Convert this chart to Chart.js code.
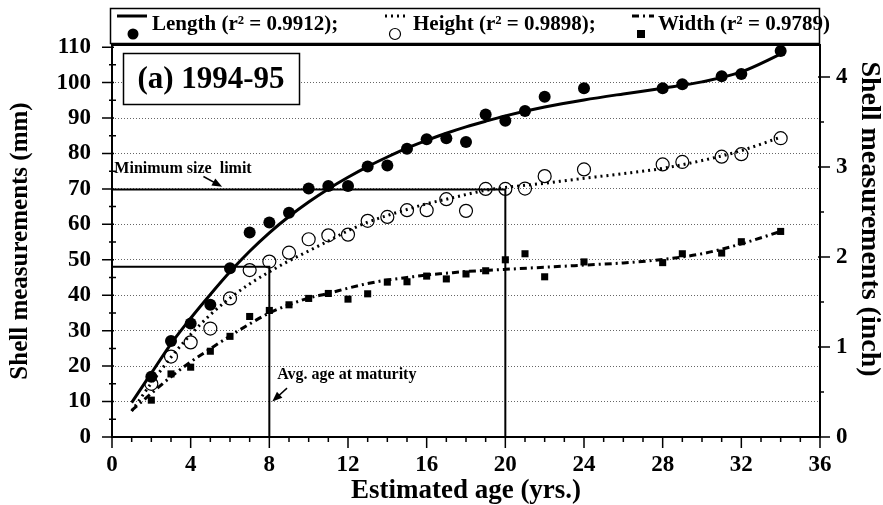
<!DOCTYPE html>
<html>
<head>
<meta charset="utf-8">
<script src="https://cdn.jsdelivr.net/npm/chart.js@4.4.1/dist/chart.umd.min.js"></script>
<style>
  html, body { margin: 0; padding: 0; background: #fff; }
</style>
</head>
<body>
<canvas id="chart" width="883" height="505"></canvas>
<script>
// observed shell measurements (mm) by estimated age
const obsAges = [2, 3, 4, 5, 6, 7, 8, 9, 10, 11, 12, 13, 14, 15, 16, 17, 18, 19, 20, 21, 22, 24, 28, 29, 31, 32, 34];
const lengthObs = [17, 27.1, 32, 37.3, 47.6, 57.7, 60.5, 63.3, 70.1, 70.8, 70.8, 76.3, 76.6, 81.3, 84, 84.3, 83.2, 91, 89.2, 92, 96, 98.4, 98.4, 99.5, 101.8, 102.4, 108.9];
const heightObs = [15, 22.7, 26.7, 30.6, 39.1, 47.1, 49.5, 52, 55.8, 56.9, 57.1, 61, 62.1, 64, 64, 67.1, 63.8, 70, 70, 70.1, 73.6, 75.5, 76.9, 77.6, 79.1, 79.8, 84.3];
const widthObs = [10.4, 17.8, 19.7, 24.2, 28.4, 34, 35.7, 37.3, 39.1, 40.5, 38.9, 40.4, 43.7, 43.8, 45.4, 44.6, 46, 46.9, 50, 51.7, 45.2, 49.4, 49.2, 51.7, 51.9, 55.1, 58];

// fitted curves
const fitAges = [1, 2, 3, 4, 5, 6, 7, 8, 9, 10, 11, 12, 13, 14, 15, 16, 17, 18, 19, 20, 22, 24, 26, 28, 30, 32, 34];
const lengthFit = [9.7, 18.0, 26.3, 33.5, 40.2, 46.6, 52.4, 57.6, 62.2, 66.3, 70.0, 73.3, 76.3, 79.0, 81.5, 83.7, 85.7, 87.5, 89.1, 90.6, 93.1, 95.1, 96.8, 98.4, 100.2, 103.0, 108.0];
const heightFit = [7.3, 15.2, 22.5, 28.9, 34.5, 39.2, 43.2, 46.6, 49.7, 52.5, 55.3, 58.2, 60.6, 62.5, 64.2, 65.8, 67.1, 68.4, 69.6, 70.4, 71.6, 73.0, 74.3, 75.8, 78.0, 80.8, 84.6];
const widthFit = [7.5, 12.3, 17.0, 21.2, 24.9, 28.5, 31.9, 35.0, 37.3, 39.2, 40.5, 42.0, 43.3, 44.3, 45.0, 45.7, 46.2, 46.7, 47.0, 47.3, 47.9, 48.5, 49.1, 50.1, 51.7, 54.5, 58.0];

// reference lines
const minSizeLine = { ages: [0, 20, 20], mm: [69.85, 69.85, 0] };
const maturityLine = { ages: [0, 8, 8], mm: [48, 48, 0] };

// ticks
const ageTicks = [0, 4, 8, 12, 16, 20, 24, 28, 32, 36];
const mmTicks = [0, 10, 20, 30, 40, 50, 60, 70, 80, 90, 100, 110];
const inchTicks = [0, 1, 2, 3, 4];

const MM_MAX = 110.6;
const SERIF = '"Liberation Serif", "Times New Roman", serif';

const pts = (xs, ys) => xs.map((x, i) => ({ x: x, y: ys[i] }));

Chart.defaults.color = '#000';
Chart.defaults.font.family = SERIF;

function arrow(ctx, x1, y1, x2, y2) {
    const a = Math.atan2(y2 - y1, x2 - x1);
    ctx.beginPath();
    ctx.moveTo(x1, y1);
    ctx.lineTo(x2 - 6 * Math.cos(a), y2 - 6 * Math.sin(a));
    ctx.stroke();
    ctx.beginPath();
    ctx.moveTo(x2, y2);
    ctx.lineTo(x2 - 10 * Math.cos(a) + 4 * Math.sin(a), y2 - 10 * Math.sin(a) - 4 * Math.cos(a));
    ctx.lineTo(x2 - 10 * Math.cos(a) - 4 * Math.sin(a), y2 - 10 * Math.sin(a) + 4 * Math.cos(a));
    ctx.closePath();
    ctx.fill();
}

// axes frame + tick marks
const framePlugin = {
    id: 'frame',
    afterDatasetsDraw(chart) {
        const { ctx, chartArea: ca, scales } = chart;
        const xs = scales.x, ys = scales.y, y2 = scales.y2;
        ctx.save();
        ctx.strokeStyle = '#000';
        ctx.lineWidth = 2;
        ctx.setLineDash([]);
        ctx.strokeRect(ca.left, ca.top, ca.right - ca.left, ca.bottom - ca.top);
        ctx.lineWidth = 1.5;
        ctx.beginPath();
        for (let v = 0; v <= 110; v += 5) {
            const py = ys.getPixelForValue(v);
            if (v % 10 === 0) { ctx.moveTo(ca.left - 10, py); ctx.lineTo(ca.left + 2, py); }
            else { ctx.moveTo(ca.left - 3, py); ctx.lineTo(ca.left + 4, py); }
        }
        for (let v = 0; v <= 36; v++) {
            const px = xs.getPixelForValue(v);
            ctx.moveTo(px, ca.bottom);
            ctx.lineTo(px, ca.bottom + (v % 4 === 0 ? 11 : 5));
        }
        for (let v = 0; v <= 4.3; v += 0.5) {
            const py = y2.getPixelForValue(v);
            if (v % 1 === 0) { ctx.moveTo(ca.right - 2, py); ctx.lineTo(ca.right + 10, py); }
            else { ctx.moveTo(ca.right, py); ctx.lineTo(ca.right + 4, py); }
        }
        ctx.stroke();
        ctx.restore();
    }
};

// legend, panel label, notes, right title
const notesPlugin = {
    id: 'notes',
    afterDraw(chart) {
        const { ctx, scales } = chart;
        const xs = scales.x, ys = scales.y;
        const X = v => xs.getPixelForValue(v);
        const Y = v => ys.getPixelForValue(v);
        ctx.save();
        ctx.fillStyle = '#000';
        ctx.strokeStyle = '#000';

        // legend box
        ctx.lineWidth = 1.5;
        ctx.strokeRect(110.5, 8.5, 709, 35);
        ctx.font = 'bold 21px ' + SERIF;
        ctx.textBaseline = 'middle';
        ctx.textAlign = 'left';
        ctx.fillText('Length (r\u00b2 = 0.9912);', 152, 25);
        ctx.fillText('Height (r\u00b2 = 0.9898);', 413, 25);
        ctx.fillText('Width (r\u00b2 = 0.9789)', 658, 25);

        ctx.lineWidth = 3;
        ctx.beginPath(); ctx.moveTo(117, 16); ctx.lineTo(147, 16); ctx.stroke();
        ctx.beginPath(); ctx.arc(133, 34, 5.5, 0, Math.PI * 2); ctx.fill();

        ctx.setLineDash([2, 4]);
        ctx.beginPath(); ctx.moveTo(385, 16); ctx.lineTo(407, 16); ctx.stroke();
        ctx.setLineDash([]);
        ctx.lineWidth = 1.2;
        ctx.beginPath(); ctx.arc(395, 34, 5.5, 0, Math.PI * 2); ctx.stroke();

        ctx.lineWidth = 3;
        ctx.setLineDash([7, 4, 2, 4]);
        ctx.beginPath(); ctx.moveTo(632, 16); ctx.lineTo(654, 16); ctx.stroke();
        ctx.setLineDash([]);
        ctx.fillRect(637, 30, 8, 8);

        // panel label
        ctx.lineWidth = 1.5;
        ctx.fillStyle = '#fff';
        ctx.fillRect(123, 53, 176, 51);
        ctx.strokeRect(123.5, 53.5, 176, 51);
        ctx.fillStyle = '#000';
        ctx.font = 'bold 31px ' + SERIF;
        ctx.textAlign = 'center';
        ctx.fillText('(a) 1994-95', 211, 80);

        // notes
        ctx.font = 'bold 16px ' + SERIF;
        ctx.textAlign = 'left';
        ctx.fillText('Minimum size  limit', X(0.12), Y(75.6));
        ctx.fillText('Avg. age at maturity', X(8.4), Y(17.4));
        ctx.lineWidth = 1.5;
        arrow(ctx, X(4.65), Y(73.5), X(5.6), Y(70.6));
        arrow(ctx, X(8.9), Y(13.8), X(8.15), Y(10.0));

        // right axis title
        ctx.font = 'bold 28px ' + SERIF;
        ctx.textAlign = 'center';
        ctx.translate(869, 219);
        ctx.rotate(Math.PI / 2);
        ctx.fillText('Shell measurements (inch)', 0, 0);
        ctx.restore();
    }
};

const tickFont = { family: SERIF, size: 23, weight: 'bold' };

new Chart(document.getElementById('chart'), {
    type: 'scatter',
    data: {
        datasets: [
            { label: 'Length', data: pts(obsAges, lengthObs), pointStyle: 'circle', pointRadius: 6,
              backgroundColor: '#000', borderColor: '#000', borderWidth: 0 },
            { label: 'Height', data: pts(obsAges, heightObs), pointStyle: 'circle', pointRadius: 6.5,
              backgroundColor: 'rgba(0,0,0,0)', borderColor: '#000', borderWidth: 1.2 },
            { label: 'Width', data: pts(obsAges, widthObs), pointStyle: 'rect', pointRadius: 5,
              backgroundColor: '#000', borderColor: '#000', borderWidth: 0 },
            { label: 'Length fit', data: pts(fitAges, lengthFit), showLine: true, pointRadius: 0,
              borderColor: '#000', borderWidth: 3, cubicInterpolationMode: 'monotone' },
            { label: 'Height fit', data: pts(fitAges, heightFit), showLine: true, pointRadius: 0,
              borderColor: '#000', borderWidth: 3, borderDash: [2, 4], cubicInterpolationMode: 'monotone' },
            { label: 'Width fit', data: pts(fitAges, widthFit), showLine: true, pointRadius: 0,
              borderColor: '#000', borderWidth: 3, borderDash: [7, 4, 2, 4], cubicInterpolationMode: 'monotone' },
            { label: 'Minimum size limit', data: pts(minSizeLine.ages, minSizeLine.mm), showLine: true,
              pointRadius: 0, borderColor: '#000', borderWidth: 2, tension: 0 },
            { label: 'Avg. age at maturity', data: pts(maturityLine.ages, maturityLine.mm), showLine: true,
              pointRadius: 0, borderColor: '#000', borderWidth: 2, tension: 0 }
        ]
    },
    options: {
        responsive: false,
        animation: false,
        devicePixelRatio: 1,
        layout: { padding: { top: 45, left: 0, right: 0, bottom: 0 } },
        plugins: { legend: { display: false }, tooltip: { enabled: false } },
        scales: {
            x: {
                type: 'linear', position: 'bottom', min: 0, max: 36,
                afterBuildTicks: s => { s.ticks = ageTicks.map(v => ({ value: v })); },
                afterFit: s => { s.height = 68; },
                ticks: { font: tickFont, color: '#000', padding: 14, maxRotation: 0 },
                grid: { display: false, drawTicks: false },
                border: { display: false },
                title: { display: true, text: 'Estimated age (yrs.)', color: '#000',
                         font: { family: SERIF, size: 27, weight: 'bold', lineHeight: 1 },
                         padding: { top: 0, bottom: 0 } }
            },
            y: {
                type: 'linear', position: 'left', min: 0, max: MM_MAX,
                afterBuildTicks: s => { s.ticks = mmTicks.map(v => ({ value: v })); },
                afterFit: s => { s.width = 112; },
                ticks: { font: tickFont, color: '#000', padding: 21 },
                grid: {
                    drawTicks: false, lineWidth: 1,
                    color: c => (c.tick && (c.tick.value === 0 || c.tick.value === 110)) ? 'rgba(0,0,0,0)' : '#666'
                },
                border: { display: false, dash: [1, 2] },
                title: { display: true, text: 'Shell measurements (mm)', color: '#000',
                         font: { family: SERIF, size: 25, weight: 'bold', lineHeight: 1 },
                         padding: { top: 8, bottom: 0 } }
            },
            y2: {
                type: 'linear', position: 'right', min: 0, max: MM_MAX / 25.4,
                afterBuildTicks: s => { s.ticks = inchTicks.map(v => ({ value: v })); },
                afterFit: s => { s.width = 63; },
                ticks: { font: tickFont, color: '#000', padding: 16 },
                grid: { display: false, drawTicks: false },
                border: { display: false }
            }
        }
    },
    plugins: [framePlugin, notesPlugin]
});
</script>
</body>
</html>
